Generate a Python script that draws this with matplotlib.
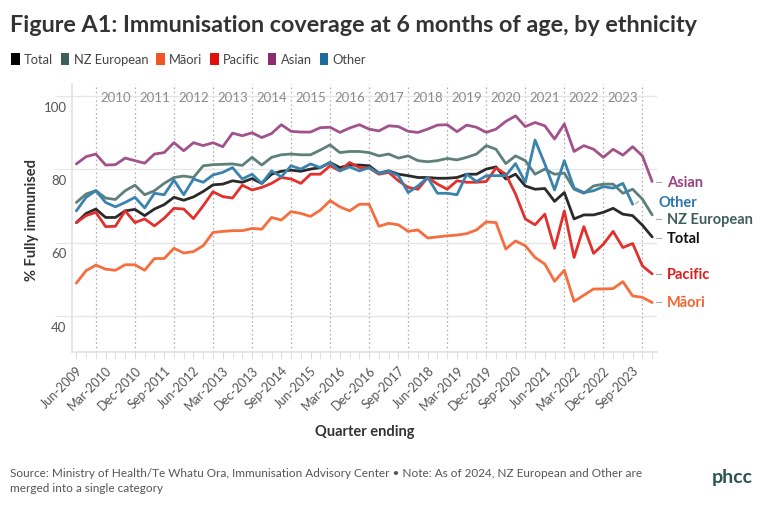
import matplotlib
matplotlib.use("Agg")
import matplotlib.pyplot as plt
from matplotlib.patches import Patch
from matplotlib.transforms import ScaledTranslation
import numpy as np

# quarter-ending labels, Jun-2009 .. Mar-2024
months = ["Mar", "Jun", "Sep", "Dec"]
quarters = []
for q in range(1, 61):
    year = 2009 + q // 4
    quarters.append(f"{months[q % 4]}-{year}")

total = [65.5, 68.0, 69.2, 66.9, 66.9, 68.7, 69.1, 67.4, 69.2, 70.4,
         72.4, 71.6, 72.5, 74.0, 75.8, 76.0, 76.9, 76.5, 77.5, 76.2,
         78.7, 79.5, 79.8, 79.5, 80.1, 80.5, 81.9, 80.5, 81.2, 81.2,
         81.0, 79.0, 79.6, 78.7, 78.3, 77.8, 77.8, 77.6, 77.6, 77.8,
         78.7, 78.7, 80.1, 80.7, 77.4, 78.7, 75.5, 74.6, 74.8, 71.3,
         73.7, 66.5, 67.6, 67.6, 68.3, 69.4, 67.8, 67.4, 64.8, 61.6]
nz_european = [71.0, 73.3, 74.2, 72.2, 71.8, 74.2, 75.7, 73.1, 74.2, 76.2,
               77.8, 78.2, 77.8, 81.0, 81.3, 81.4, 81.5, 81.1, 83.3, 81.2,
               83.3, 84.0, 84.2, 84.0, 84.0, 85.3, 86.7, 84.6, 84.9, 84.9,
               84.6, 83.7, 84.2, 83.1, 83.7, 82.4, 82.1, 82.4, 83.0, 82.6,
               83.3, 84.2, 86.5, 85.5, 81.6, 83.7, 82.4, 78.7, 80.1, 78.7,
               79.0, 74.6, 73.5, 75.5, 76.0, 76.0, 73.5, 74.6, 71.9, 67.6]
maori = [49.0, 52.4, 53.9, 52.8, 52.5, 54.0, 54.0, 52.5, 55.7, 55.7,
         58.5, 57.2, 57.6, 59.2, 62.8, 63.1, 63.3, 63.3, 63.9, 63.7,
         66.9, 66.2, 68.5, 68.0, 67.2, 68.9, 71.5, 69.8, 68.7, 70.5,
         70.5, 64.5, 65.3, 64.9, 63.1, 63.5, 61.3, 61.6, 61.9, 62.1,
         62.5, 63.5, 65.7, 65.5, 58.3, 60.5, 59.2, 56.0, 54.2, 49.5,
         52.5, 44.0, 45.7, 47.4, 47.4, 47.5, 49.4, 45.5, 45.1, 43.7]
pacific = [65.5, 67.4, 68.3, 64.4, 64.5, 68.7, 65.5, 66.5, 64.6, 66.7,
           69.4, 69.2, 66.6, 70.1, 73.9, 72.6, 72.2, 75.7, 74.4, 75.1,
           76.2, 77.8, 77.4, 76.2, 78.7, 78.7, 81.0, 79.6, 81.9, 80.5,
           80.4, 78.7, 79.2, 76.9, 75.1, 74.6, 77.8, 76.0, 74.6, 76.9,
           76.5, 76.5, 76.7, 80.4, 78.7, 73.3, 66.5, 64.9, 67.8, 58.5,
           68.7, 56.0, 64.4, 57.1, 59.6, 63.1, 58.7, 59.8, 53.7, 51.5]
asian = [81.5, 83.5, 84.2, 81.2, 81.3, 83.1, 82.4, 81.7, 84.2, 84.6,
         87.3, 85.1, 87.3, 86.5, 87.3, 86.2, 89.9, 89.2, 90.0, 88.7,
         89.8, 92.2, 90.4, 90.2, 90.2, 91.4, 91.5, 90.1, 91.3, 92.2,
         91.0, 90.5, 91.9, 91.7, 90.4, 90.1, 91.0, 92.1, 92.2, 90.3,
         92.1, 91.5, 90.1, 91.0, 93.1, 94.6, 91.7, 92.8, 91.9, 88.3,
         92.4, 84.9, 86.5, 85.5, 83.3, 85.5, 83.9, 86.2, 83.7, 76.7]
# Other stops at Sep-2023 (merged with NZ European from 2024)
other = [68.7, 72.4, 74.2, 71.0, 69.8, 71.0, 72.4, 69.5, 73.5, 73.1,
         77.1, 73.1, 77.4, 76.5, 78.5, 79.2, 80.5, 77.4, 78.7, 76.2,
         79.6, 78.0, 81.0, 80.1, 81.5, 80.5, 81.9, 79.6, 80.7, 79.6,
         80.5, 78.9, 79.5, 78.3, 73.7, 75.5, 77.8, 73.5, 73.5, 73.1,
         78.7, 76.7, 78.3, 78.3, 78.3, 81.6, 76.5, 88.0, 81.5, 74.4,
         82.4, 74.9, 73.7, 74.2, 75.3, 74.9, 76.2, 70.5]

series_names = ["Total", "NZ European", "Māori", "Pacific", "Asian", "Other"]
series_values = [total, nz_european, maori, pacific, asian, other]
line_colors = ["#2a2a2a", "#5f7f7b", "#f66d3e", "#e2302c", "#a1528b", "#3a83ae"]
legend_colors = ["#000000", "#3c5f5a", "#f05523", "#e00f0f", "#8c2c6e", "#1d6b9a"]
label_colors = ["#111111", "#3f5f5b", "#f3642f", "#e01b1b", "#9b3f7f", "#2a76a8"]
# y position of the end labels (spread so they don't overlap)
label_y = [61.3, 66.4, 43.8, 51.4, 76.5, 71.1]

years = list(range(2010, 2024))

plt.rcParams["font.family"] = ["Lato", "DejaVu Sans"]

fig = plt.figure(figsize=(7.64, 5.10), dpi=100)
ax = fig.add_axes([0.0942, 0.3078, 0.7658, 0.5255])

x = np.arange(len(quarters))
for vals, col in zip(series_values, line_colors):
    ax.plot(np.arange(len(vals)), vals, color=col, lw=2.0, solid_joinstyle="round",
            solid_capstyle="round", zorder=3)

ax.set_xlim(-0.45, 59.5)
ax.set_ylim(30.2, 103.3)

# year separators at each December, year name in between
for k, yr in enumerate(years):
    ax.axvline(2 + 4 * k, color="#a8a8a8", lw=0.9, ls=(0, (1.2, 2.2)), zorder=1)
    ax.text(4 + 4 * k, 0.952, str(yr), transform=ax.get_xaxis_transform(),
            ha="center", va="center", fontsize=9.5, color="#8a8a8a")
ax.axvline(58, color="#a8a8a8", lw=0.9, ls=(0, (1.2, 2.2)), zorder=1)

ax.set_yticks([40, 60, 80, 100])
ax.grid(axis="y", color="#e6e6e6", lw=1)
ax.tick_params(axis="y", length=12, color="#e6e6e6", labelsize=9.5,
               labelcolor="#555555", pad=-8)
for lab in ax.get_yticklabels():
    lab.set_transform(lab.get_transform() + ScaledTranslation(0, -7 / 72, fig.dpi_scale_trans))
    lab.set_ha("right")

ax.set_xticks(x[::3])
ax.set_xticklabels(quarters[::3], rotation=45, ha="right", rotation_mode="anchor")
ax.set_xticks(x, minor=True)
ax.tick_params(axis="x", which="both", length=5, color="#dcdcdc", labelsize=9,
               labelcolor="#555555", pad=3)

for side in ["top", "right"]:
    ax.spines[side].set_visible(False)
for side in ["left", "bottom"]:
    ax.spines[side].set_color("#e2e2e2")
    ax.spines[side].set_linewidth(1.2)

# end labels
for name, vals, ly, col in zip(series_names, series_values, label_y, label_colors):
    end = len(vals) - 1
    if name == "Other":
        ax.plot([end + 0.3, end + 0.6], [ly - 0.5, ly + 0.2], color="#aaaaaa", lw=0.8,
                clip_on=False)
        ax.text(end + 2.6, ly, name, color=col, fontsize=10.5, fontweight="bold",
                va="center", ha="left", clip_on=False)
    else:
        ax.plot([end + 0.4, end + 0.9], [ly, ly], color="#aaaaaa", lw=0.8, clip_on=False)
        ax.text(end + 1.5, ly, name, color=col, fontsize=10.5, fontweight="bold",
                va="center", ha="left", clip_on=False)

# titles and labels
fig.text(0.013, 1 - 25 / 510, "Figure A1: Immunisation coverage at 6 months of age, by ethnicity",
         fontsize=16.8, fontweight="bold", color="#333333", va="center", ha="left")
fig.text(32 / 764, 1 - 220 / 510, "% Fully immunised", rotation=90, fontsize=10.5,
         fontweight="bold", color="#333333", va="center", ha="center")
fig.text(365 / 764, 1 - 432 / 510, "Quarter ending", fontsize=10.5, fontweight="bold",
         color="#333333", va="center", ha="center")

handles = [Patch(facecolor=c, edgecolor="none") for c in legend_colors]
fig.legend(handles, series_names, loc="center left", bbox_to_anchor=(0.008, 1 - 60 / 510),
           ncol=6, frameon=False, handlelength=0.65, handleheight=1.1, handletextpad=0.35,
           columnspacing=0.6, fontsize=9.3, labelcolor="#444444", borderaxespad=0)

fig.text(0.013, 1 - 481 / 510,
         "Source: Ministry of Health/Te Whatu Ora, Immunisation Advisory Center \u2022 Note: As of 2024, "
         "NZ European and Other are\nmerged into a single category",
         fontsize=8.5, color="#555555", va="center", ha="left", linespacing=1.5)
fig.text(712 / 764, 1 - 478 / 510, "phcc", fontsize=14, fontweight="bold",
         color="#2d5550", va="center", ha="left")

fig.savefig("out.png", dpi=100)
